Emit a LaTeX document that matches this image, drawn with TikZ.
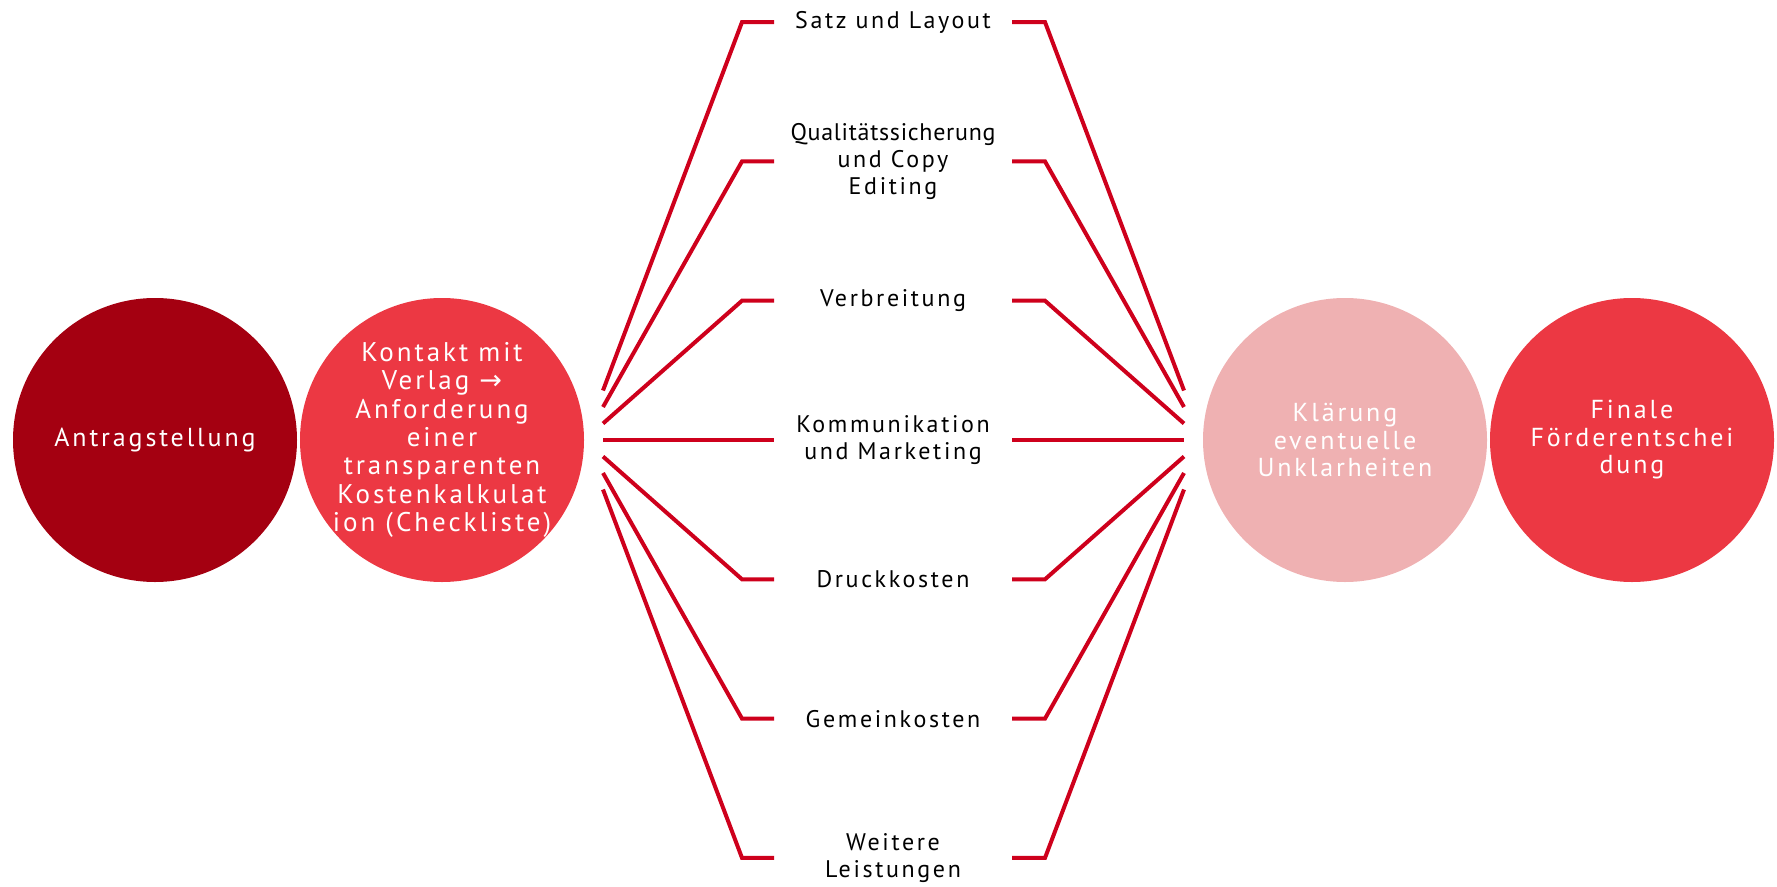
\documentclass[tikz,border=0pt]{standalone}
\usepackage{fontspec}
\setmainfont{PT Sans}[LetterSpace=11]
\newfontfamily\symfont{DejaVu Sans}
\newcommand\tightsp[1]{{\addfontfeature{LetterSpace=3}#1}}
\begin{document}
\begin{tikzpicture}[x=1pt,y=-1pt]
\definecolor{fanred}{RGB}{206,0,28}
\definecolor{darkred}{RGB}{164,0,17}
\definecolor{midred}{RGB}{236,56,67}
\definecolor{lightred}{RGB}{239,177,178}
\tikzset{
  bubble/.style={circle,minimum size=284pt,inner sep=-30pt,text=white,align=center,font=\fontsize{26}{27.5}\selectfont},
  densebubble/.style={bubble,font=\fontsize{27}{28.3}\selectfont},
  lbl/.style={align=center,text=black,inner sep=0pt,font=\fontsize{24}{26.7}\selectfont},
  fanline/.style={draw=fanred,line width=4pt}
}
\useasboundingbox (0,0) rectangle (1777,886);
\node[bubble,fill=darkred] (c1) at (155,440) {Antragstellung};
\node[densebubble,fill=midred] (c2) at (442,440) {Kontakt mit\\Verlag {\symfont →}\\Anforderung\\einer\\transparenten\\Kostenkalkulat\\ion (Checkliste)};
\node[bubble,fill=lightred] (c3) at (1345,440) {Klärung\\eventuelle\\Unklarheiten};
\node[bubble,fill=midred] (c4) at (1632,440) {Finale\\Förderentschei\\dung};
\foreach \i/\t in {-3/{Satz und Layout},-2/{\tightsp{Qualitätssicherung}\\und Copy\\Editing},-1/{Verbreitung},0/{Kommunikation\\und Marketing},1/{Druckkosten},2/{Gemeinkosten},3/{Weitere\\Leistungen}}{
  \pgfmathsetmacro{\yr}{440+139.3*\i}
  \pgfmathsetmacro{\ys}{440+16.5*\i}
  \node[lbl] (t\i) at (893,\yr) {\t};
  \coordinate (ls\i) at (603,\ys);
  \coordinate (lc\i) at (742,\yr);
  \coordinate (le\i) at (774,\yr);
  \coordinate (rs\i) at (1012,\yr);
  \coordinate (rc\i) at (1045,\yr);
  \coordinate (re\i) at (1184,\ys);
  \draw[fanline] (ls\i) -- (lc\i) -- (le\i);
  \draw[fanline] (rs\i) -- (rc\i) -- (re\i);
}
\end{tikzpicture}
\end{document}
